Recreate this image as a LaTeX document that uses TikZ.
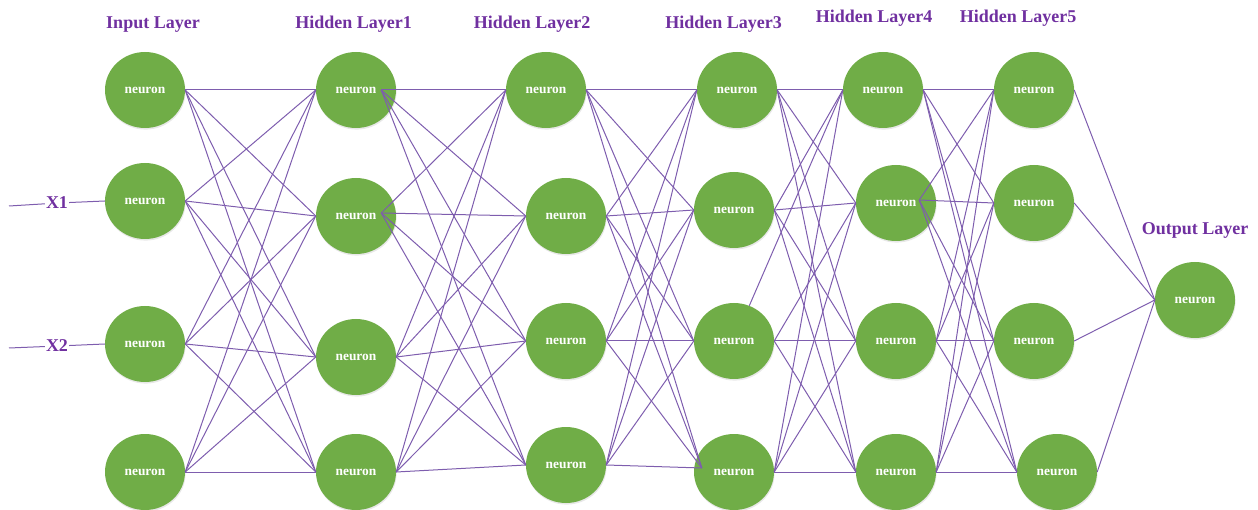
\documentclass[tikz,border=0pt]{standalone}
\usepackage{fontspec}
\setmainfont{Liberation Serif}
\usetikzlibrary{shapes.geometric,shadows}

\definecolor{neurongreen}{HTML}{70AD47}
\definecolor{linkpurple}{HTML}{7E5DAE}
\definecolor{labelpurple}{HTML}{7030A0}

\tikzset{
  neuronbox/.style={ellipse, fill=neurongreen, minimum width=80pt, minimum height=76pt,
    inner sep=0pt, text=white, font=\fontsize{13.4}{15}\selectfont\bfseries,
    drop shadow={opacity=0.18, shadow xshift=0.6pt, shadow yshift=-1.6pt}},
  link/.style={draw=linkpurple, line width=1pt},
  layerlabel/.style={anchor=base, text=labelpurple, inner sep=0pt,
    font=\fontsize{18}{20}\selectfont\bfseries},
  inputlabel/.style={anchor=base, text=labelpurple, inner sep=1pt,
    font=\fontsize{18}{20}\selectfont\bfseries}
}

\begin{document}
\begin{tikzpicture}[x=1pt, y=-1pt]
\useasboundingbox (0,0) rectangle (1258,510);

% layer titles
\node[layerlabel] (t0) at (153,29)    {Input Layer};
\node[layerlabel] (t1) at (353.5,29)  {Hidden Layer1};
\node[layerlabel] (t2) at (532,29)    {Hidden Layer2};
\node[layerlabel] (t3) at (723.5,29)  {Hidden Layer3};
\node[layerlabel] (t4) at (874,23)    {Hidden Layer4};
\node[layerlabel] (t5) at (1018,23)   {Hidden Layer5};
\node[layerlabel] (t6) at (1195,235)  {Output Layer};

% neurons: n<layer><index>
\node[neuronbox] (n01) at (145,90)  {neuron};
\node[neuronbox] (n02) at (145,201) {neuron};
\node[neuronbox] (n03) at (145,344) {neuron};
\node[neuronbox] (n04) at (145,472) {neuron};

\node[neuronbox] (n11) at (356,90)  {neuron};
\node[neuronbox] (n12) at (356,216) {neuron};
\node[neuronbox] (n13) at (356,357) {neuron};
\node[neuronbox] (n14) at (356,472) {neuron};

\node[neuronbox] (n21) at (546,90)  {neuron};
\node[neuronbox] (n22) at (566,216) {neuron};
\node[neuronbox] (n23) at (566,341) {neuron};
\node[neuronbox] (n24) at (566,465) {neuron};

\node[neuronbox] (n31) at (737,90)  {neuron};
\node[neuronbox] (n32) at (734,210) {neuron};
\node[neuronbox] (n33) at (734,341) {neuron};
\node[neuronbox] (n34) at (734,472) {neuron};

\node[neuronbox] (n41) at (883,90)  {neuron};
\node[neuronbox] (n42) at (896,203) {neuron};
\node[neuronbox] (n43) at (896,341) {neuron};
\node[neuronbox] (n44) at (896,472) {neuron};

\node[neuronbox] (n51) at (1034,90)  {neuron};
\node[neuronbox] (n52) at (1034,203) {neuron};
\node[neuronbox] (n53) at (1034,341) {neuron};
\node[neuronbox] (n54) at (1057,472) {neuron};

\node[neuronbox] (n61) at (1195,300) {neuron};

% connection points: outgoing on the right, incoming on the left
\foreach \l in {0,...,5}
  \foreach \k in {1,...,4} {
    \coordinate (o\l\k) at (n\l\k.east);
    \coordinate (i\l\k) at (n\l\k.west);
  }
\coordinate (i61) at (n61.west);
\coordinate (o11) at ([xshift=-15pt]n11.east);
\coordinate (o12) at ([xshift=-15pt,yshift=3pt]n12.east);
\coordinate (i34) at ([xshift=8pt,yshift=4pt]n34.west);
\coordinate (o42) at ([xshift=-17pt,yshift=3pt]n42.east);

% full connections between neighbouring layers
\foreach \l/\m in {0/1,1/2,2/3,4/5}
  \foreach \a in {1,...,4}
    \foreach \b in {1,...,4}
      \draw[link] (o\l\a) -- (i\m\b);

\foreach \a in {1,...,4}
  \foreach \b in {1,...,4} {
    \ifnum\a\b=31 \else \draw[link] (o3\a) -- (i4\b); \fi
  }
\draw[link] (n33) -- (i41);

\foreach \a in {1,...,4}
  \draw[link] (o5\a) -- (i61);

% inputs
\coordinate (x1s) at (9,206);
\coordinate (x2s) at (9,348);
\node[inputlabel] (X1) at (57,209) {X1};
\node[inputlabel] (X2) at (57,352) {X2};
\draw[link] (x1s) -- (X1) -- (n02.west);
\draw[link] (x2s) -- (X2) -- (n03.west);
\end{tikzpicture}
\end{document}
